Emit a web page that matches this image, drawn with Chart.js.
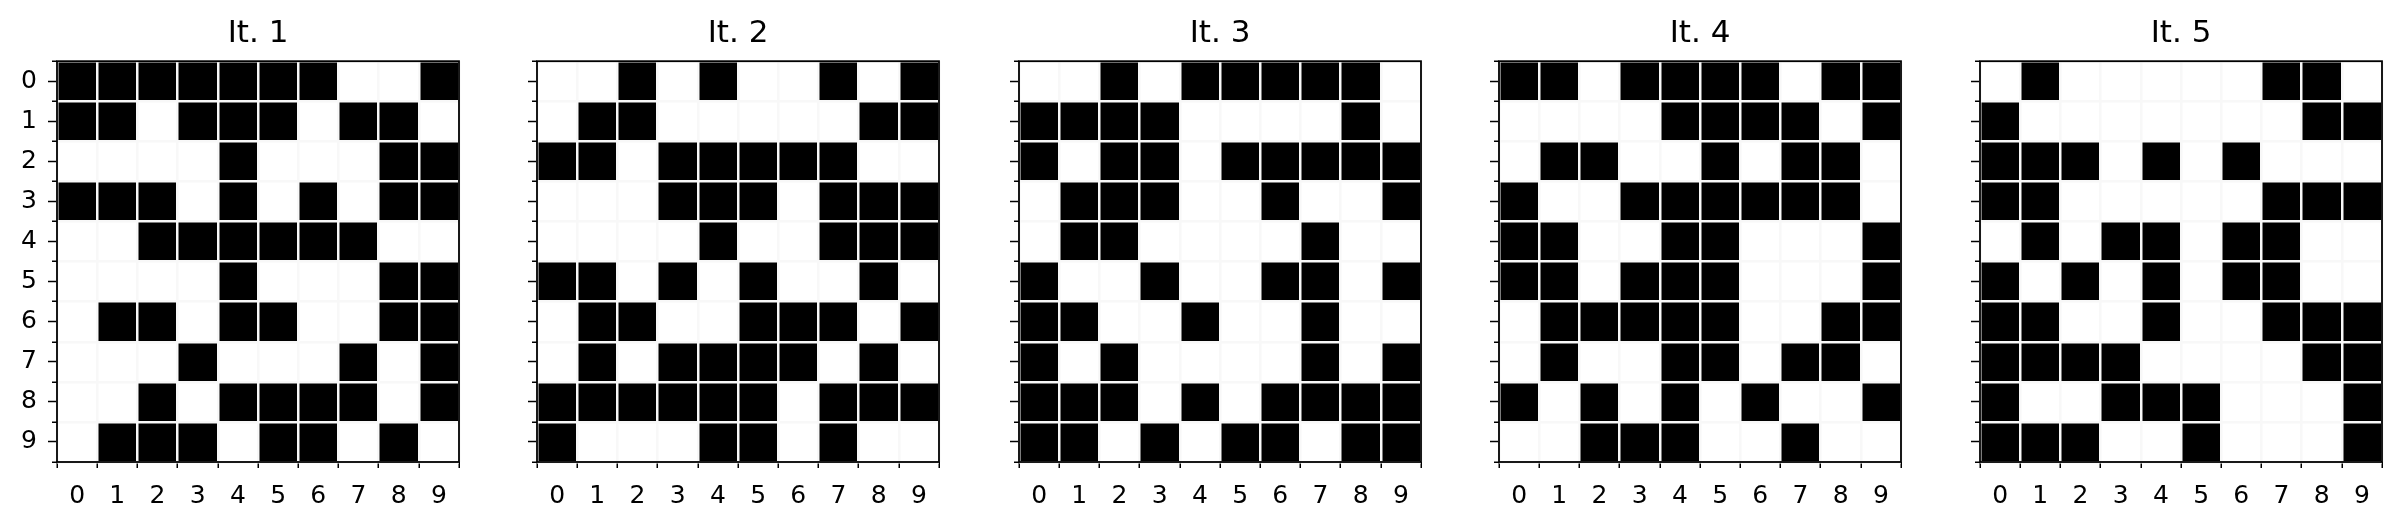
<!DOCTYPE html>
<html>
<head>
<meta charset="utf-8">
<script src="https://cdn.jsdelivr.net/npm/chart.js@4.4.1/dist/chart.umd.min.js"></script>
<style>
  body { margin: 0; background: #fff; width: 2402px; height: 530px; position: relative; overflow: hidden; }
  canvas { position: absolute; top: 0; }
</style>
</head>
<body>
<canvas id="c0" width="461" height="530"></canvas>
<canvas id="c1" width="461" height="530"></canvas>
<canvas id="c2" width="461" height="530"></canvas>
<canvas id="c3" width="461" height="530"></canvas>
<canvas id="c4" width="461" height="530"></canvas>
<script>
// labels
const colLabels = ['0', '1', '2', '3', '4', '5', '6', '7', '8', '9'];
const rowLabels = ['0', '1', '2', '3', '4', '5', '6', '7', '8', '9'];
const titles = ['It. 1', 'It. 2', 'It. 3', 'It. 4', 'It. 5'];

// cell states per iteration (1 = black), row by row
const iter1 = [
  [1, 1, 1, 1, 1, 1, 1, 0, 0, 1],
  [1, 1, 0, 1, 1, 1, 0, 1, 1, 0],
  [0, 0, 0, 0, 1, 0, 0, 0, 1, 1],
  [1, 1, 1, 0, 1, 0, 1, 0, 1, 1],
  [0, 0, 1, 1, 1, 1, 1, 1, 0, 0],
  [0, 0, 0, 0, 1, 0, 0, 0, 1, 1],
  [0, 1, 1, 0, 1, 1, 0, 0, 1, 1],
  [0, 0, 0, 1, 0, 0, 0, 1, 0, 1],
  [0, 0, 1, 0, 1, 1, 1, 1, 0, 1],
  [0, 1, 1, 1, 0, 1, 1, 0, 1, 0]
];
const iter2 = [
  [0, 0, 1, 0, 1, 0, 0, 1, 0, 1],
  [0, 1, 1, 0, 0, 0, 0, 0, 1, 1],
  [1, 1, 0, 1, 1, 1, 1, 1, 0, 0],
  [0, 0, 0, 1, 1, 1, 0, 1, 1, 1],
  [0, 0, 0, 0, 1, 0, 0, 1, 1, 1],
  [1, 1, 0, 1, 0, 1, 0, 0, 1, 0],
  [0, 1, 1, 0, 0, 1, 1, 1, 0, 1],
  [0, 1, 0, 1, 1, 1, 1, 0, 1, 0],
  [1, 1, 1, 1, 1, 1, 0, 1, 1, 1],
  [1, 0, 0, 0, 1, 1, 0, 1, 0, 0]
];
const iter3 = [
  [0, 0, 1, 0, 1, 1, 1, 1, 1, 0],
  [1, 1, 1, 1, 0, 0, 0, 0, 1, 0],
  [1, 0, 1, 1, 0, 1, 1, 1, 1, 1],
  [0, 1, 1, 1, 0, 0, 1, 0, 0, 1],
  [0, 1, 1, 0, 0, 0, 0, 1, 0, 0],
  [1, 0, 0, 1, 0, 0, 1, 1, 0, 1],
  [1, 1, 0, 0, 1, 0, 0, 1, 0, 0],
  [1, 0, 1, 0, 0, 0, 0, 1, 0, 1],
  [1, 1, 1, 0, 1, 0, 1, 1, 1, 1],
  [1, 1, 0, 1, 0, 1, 1, 0, 1, 1]
];
const iter4 = [
  [1, 1, 0, 1, 1, 1, 1, 0, 1, 1],
  [0, 0, 0, 0, 1, 1, 1, 1, 0, 1],
  [0, 1, 1, 0, 0, 1, 0, 1, 1, 0],
  [1, 0, 0, 1, 1, 1, 1, 1, 1, 0],
  [1, 1, 0, 0, 1, 1, 0, 0, 0, 1],
  [1, 1, 0, 1, 1, 1, 0, 0, 0, 1],
  [0, 1, 1, 1, 1, 1, 0, 0, 1, 1],
  [0, 1, 0, 0, 1, 1, 0, 1, 1, 0],
  [1, 0, 1, 0, 1, 0, 1, 0, 0, 1],
  [0, 0, 1, 1, 1, 0, 0, 1, 0, 0]
];
const iter5 = [
  [0, 1, 0, 0, 0, 0, 0, 1, 1, 0],
  [1, 0, 0, 0, 0, 0, 0, 0, 1, 1],
  [1, 1, 1, 0, 1, 0, 1, 0, 0, 0],
  [1, 1, 0, 0, 0, 0, 0, 1, 1, 1],
  [0, 1, 0, 1, 1, 0, 1, 1, 0, 0],
  [1, 0, 1, 0, 1, 0, 1, 1, 0, 0],
  [1, 1, 0, 0, 1, 0, 0, 1, 1, 1],
  [1, 1, 1, 1, 0, 0, 0, 0, 1, 1],
  [1, 0, 0, 1, 1, 1, 0, 0, 0, 1],
  [1, 1, 1, 0, 0, 1, 0, 0, 0, 1]
];
const grids = [iter1, iter2, iter3, iter4, iter5];

// left edge of each plot area on the page
const panelLeft = [57, 537, 1019, 1499, 1980];
const font = 'DejaVu Sans';

// black frame round the plot area (matplotlib spines)
const framePlugin = {
  id: 'frame',
  afterDraw(chart) {
    const { ctx, chartArea: a } = chart;
    ctx.save();
    ctx.strokeStyle = '#000';
    ctx.lineWidth = 1.8;
    ctx.strokeRect(a.left, a.top, a.right - a.left, a.bottom - a.top);
    ctx.restore();
  }
};

grids.forEach((grid, i) => {
  const canvas = document.getElementById('c' + i);
  canvas.style.left = (panelLeft[i] - 50) + 'px';

  const datasets = grid.map((row, r) => ({
    data: row.map(v => v ? [r - 0.5, r + 0.5] : null),
    backgroundColor: '#000',
    borderWidth: 0,
    barPercentage: 1,
    categoryPercentage: 1,
    grouped: false,
    yAxisID: 'y'
  }));

  new Chart(canvas.getContext('2d'), {
    type: 'bar',
    data: { labels: colLabels, datasets: datasets },
    plugins: [framePlugin],
    options: {
      responsive: false,
      animation: false,
      layout: { padding: { left: 0, right: 9, top: 0, bottom: 8 } },
      plugins: {
        legend: { display: false },
        tooltip: { enabled: false },
        title: {
          display: true,
          text: titles[i],
          fullSize: false,
          color: '#000',
          font: { family: font, size: 31, weight: 'normal' },
          padding: { top: 15, bottom: 9 }
        }
      },
      scales: {
        x: {
          type: 'category',
          offset: true,
          afterFit: s => { s.height = 60; },
          border: { display: false },
          grid: {
            offset: true,
            z: 1,
            color: '#f8f8f8',
            lineWidth: 2.5,
            tickLength: 6,
            tickColor: '#000',
            tickWidth: 1.5
          },
          ticks: {
            color: '#000',
            padding: 13,
            maxRotation: 0,
            font: { family: font, size: 25 }
          }
        },
        y: {
          type: 'linear',
          reverse: true,
          min: -0.5,
          max: 9.5,
          weight: 1,
          afterFit: s => { s.width = 50; },
          afterBuildTicks: s => { s.ticks = rowLabels.map((_, k) => ({ value: k })); },
          border: { display: false },
          grid: {
            drawOnChartArea: false,
            tickLength: 9,
            tickColor: '#000',
            tickWidth: 1.5
          },
          ticks: {
            display: i === 0,
            color: '#000',
            padding: 11,
            font: { family: font, size: 25 },
            callback: v => rowLabels[v]
          }
        },
        yEdge: {
          type: 'linear',
          position: 'left',
          reverse: true,
          min: -0.5,
          max: 9.5,
          weight: 0,
          afterFit: s => { s.width = 0; },
          afterBuildTicks: s => { s.ticks = rowLabels.concat(['']).map((_, k) => ({ value: k - 0.5 })); },
          border: { display: false },
          grid: {
            z: 1,
            color: '#f8f8f8',
            lineWidth: 2.5,
            tickLength: 5,
            tickColor: '#000',
            tickWidth: 1.5
          },
          ticks: { display: false }
        }
      }
    }
  });
});
</script>
</body>
</html>
